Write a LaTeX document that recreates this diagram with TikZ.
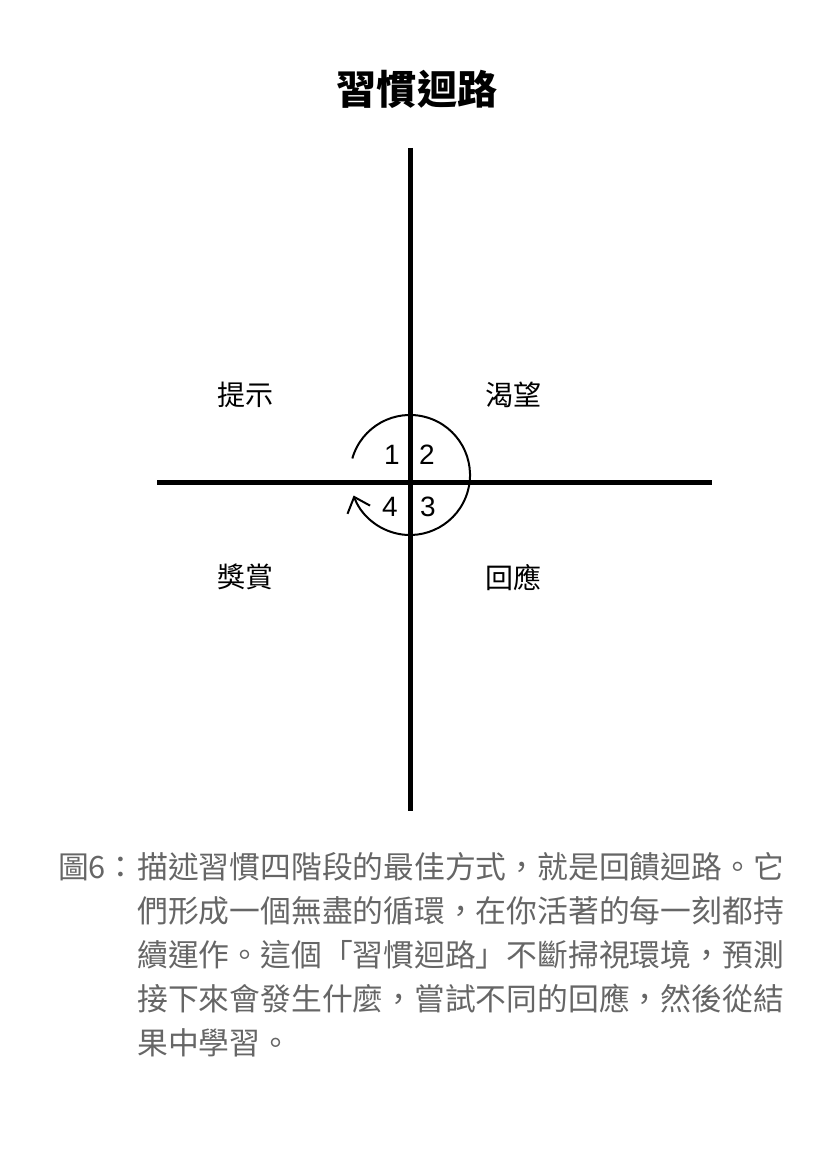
\documentclass[tikz,border=0pt]{standalone}
\usepackage{fontspec}
\setmainfont{Noto Sans CJK TC}
\newfontfamily\digitfont{Liberation Sans}
\usetikzlibrary{arrows.meta,calc,positioning}
\definecolor{captiongray}{rgb}{0.40,0.40,0.40}
\tikzset{
	axisline/.style={line width=0.125cm},
	loopline/.style={line width=0.05cm,-{Straight Barb[length=0.34cm,width=0.6cm]}},
	stagelabel/.style={font=\fontsize{19.9}{24}\selectfont,inner sep=0pt},
	stagenum/.style={font=\digitfont\fontsize{19.9}{24}\selectfont,inner sep=0pt},
	captionline/.style={font=\fontsize{21.9}{26}\selectfont,text=captiongray,inner sep=0pt,anchor=west,text height=0.88em,text depth=0.12em}
}

\begin{document}
\begin{tikzpicture}
                        \useasboundingbox (0.000000,0.000000) rectangle (20.500000,28.900000);

                        % Title
                        \node (title) [font=\bfseries\fontsize{28.5}{34}\selectfont,inner sep=0pt] at (10.425000,26.675000) {習慣迴路};

                        % Axis ends
                        \coordinate (axtop) at (10.250000,25.200000);
                        \coordinate (axbottom) at (10.250000,8.625000);
                        \coordinate (axleft) at (3.925000,16.825000);
                        \coordinate (axright) at (17.800000,16.825000);
                        \coordinate (hub) at (10.250000,17.025000);

                        % Drawing line top bottom
                        \draw [axisline] (axtop) -- (axbottom);%

                        % Drawing line left right
                        \draw [axisline] (axleft) -- (axright);%

                        % Drawing arc 164 -160
                        \draw [loopline] ($(hub)+(164:1.5)$) arc (164:-160:1.5);%

                        % Marking stages
                        \node (one) [stagenum] at (9.800000,17.525000) {1};
                        \node (two) [stagenum] at (10.675000,17.525000) {2};
                        \node (three) [stagenum] at (10.700000,16.225000) {3};
                        \node (four) [stagenum] at (9.750000,16.225000) {4};

                        % Marking quadrants
                        \node (cue) [stagelabel] at (6.125000,19.025000) {提示};
                        \node (craving) [stagelabel] at (12.825000,19.025000) {渴望};
                        \node (response) [stagelabel] at (12.825000,14.450000) {回應};
                        \node (reward) [stagelabel] at (6.125000,14.475000) {獎賞};

                        % Caption
                        \node (figno) [captionline,anchor=east] at (3.425000,7.075000) {圖6：};
                        \node (capa) [captionline] at (3.425000,7.075000) {描述習慣四階段的最佳方式，就是回饋迴路。它};
                        \node (capb) [captionline] at (3.425000,5.975000) {們形成一個無盡的循環，在你活著的每一刻都持};
                        \node (capc) [captionline] at (3.425000,4.875000) {續運作。這個「習慣迴路」不斷掃視環境，預測};
                        \node (capd) [captionline] at (3.425000,3.775000) {接下來會發生什麼，嘗試不同的回應，然後從結};
                        \node (cape) [captionline] at (3.425000,2.675000) {果中學習。};
\end{tikzpicture}
\end{document}
